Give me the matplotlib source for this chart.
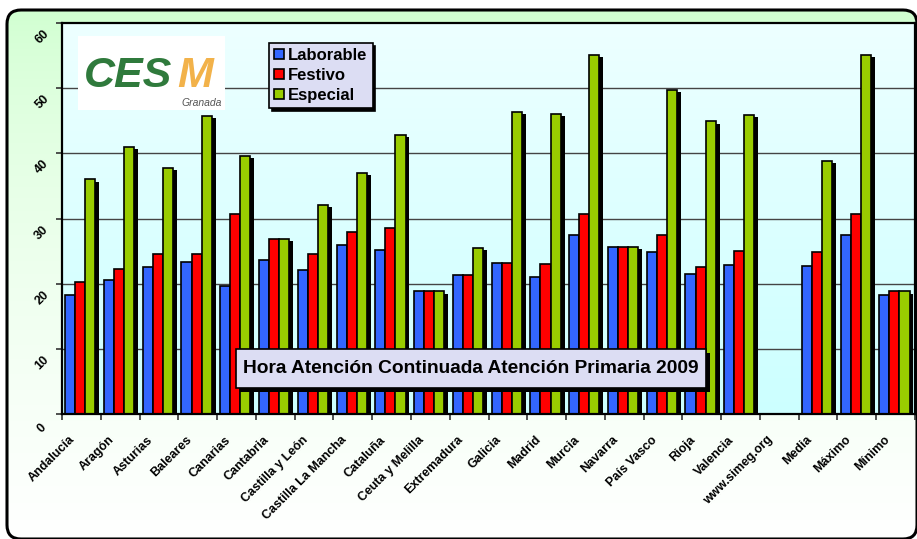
import numpy as np
import matplotlib
matplotlib.use('Agg')
import matplotlib.pyplot as plt
from matplotlib import patheffects
from matplotlib.patches import FancyBboxPatch, Rectangle, Patch

plt.rcParams['font.family'] = ['Liberation Sans', 'DejaVu Sans']

# data (hours); www.simeg.org is an empty slot
categories = ['Andalucía', 'Aragón', 'Asturias', 'Baleares', 'Canarias', 'Cantabria',
              'Castilla y León', 'Castilla La Mancha', 'Cataluña', 'Ceuta y Melilla',
              'Extremadura', 'Galicia', 'Madrid', 'Murcia', 'Navarra', 'País Vasco',
              'Rioja', 'Valencia', 'www.simeg.org', 'Media', 'Máximo', 'Mínimo']
laborable = [18.2, 20.5, 22.5, 23.4, 19.7, 23.6, 22.1, 26.0, 25.2, 18.8, 21.3,
             23.2, 21.0, 27.5, 25.6, 24.8, 21.5, 22.8, np.nan, 22.7, 27.5, 18.2]
festivo = [20.3, 22.3, 24.5, 24.5, 30.7, 26.9, 24.6, 28.0, 28.6, 18.8, 21.3,
           23.2, 23.0, 30.7, 25.6, 27.4, 22.5, 25.0, np.nan, 24.8, 30.7, 18.8]
especial = [36.0, 41.0, 37.8, 45.8, 39.6, 26.9, 32.1, 37.0, 42.8, 18.8, 25.5,
            46.4, 46.1, 55.1, 25.6, 49.7, 44.9, 45.9, np.nan, 38.8, 55.1, 18.8]
series_names = ['Laborable', 'Festivo', 'Especial']
colors = ['#3366FF', '#FF0000', '#99CC00']
yticks = [0, 10, 20, 30, 40, 50, 60]
title = 'Hora Atención Continuada Atención Primaria 2009'

W, H = 917, 539
fig = plt.figure(figsize=(W / 100, H / 100), dpi=100)

# ---- background frame (pixel coordinates) ----
back = fig.add_axes([0, 0, 1, 1], zorder=0)
back.set_xlim(0, W)
back.set_ylim(H, 0)
back.axis('off')
frame = FancyBboxPatch((7, 10), 910, 529, boxstyle='round,pad=0,rounding_size=14',
                       facecolor='none', edgecolor='black', linewidth=2.2, zorder=2)
back.add_patch(frame)
grad = np.linspace(0, 1, 256).reshape(-1, 1)
top_c = np.array([0.80, 1.0, 0.80])
bot_c = np.array([1.0, 1.0, 1.0])
img = top_c + (bot_c - top_c) * grad[:, :, None] ** 0.6
im = back.imshow(img, extent=[0, W, H, 0], aspect='auto', zorder=1)
im.set_clip_path(frame)

# ---- main chart ----
ax = fig.add_axes([62 / W, 1 - 414 / H, (915 - 62) / W, (414 - 23) / H], zorder=2)
ax.patch.set_visible(False)
n = len(categories)
x = np.arange(n)
pgrad = np.linspace(0, 1, 256).reshape(-1, 1)
ptop = np.array([0.93, 1.0, 1.0])
pbot = np.array([0.80, 1.0, 1.0])
pimg = ptop + (pbot - ptop) * pgrad[:, :, None]
ax.imshow(pimg, extent=[-0.5, n - 0.5, 0, 60], aspect='auto', zorder=0)

for v in yticks[1:-1]:
    ax.axhline(v, color='#444444', linewidth=1, zorder=1)

width = 0.26
shadow = [patheffects.SimplePatchShadow(offset=(2.8, -1.6), shadow_rgbFace='black', alpha=1.0),
          patheffects.Normal()]
for i, (vals, col) in enumerate(zip([laborable, festivo, especial], colors)):
    bars = ax.bar(x + (i - 1) * width - 0.03, vals, width, color=col, edgecolor='black',
                  linewidth=1.2, zorder=3 + i)
    for b in bars:
        b.set_path_effects(shadow)

ax.set_xlim(-0.5, n - 0.5)
ax.set_ylim(0, 60)
for s in ax.spines.values():
    s.set_color('black')
    s.set_linewidth(1.6)
    s.set_zorder(10)
ax.set_xticks(np.arange(n + 1) - 0.5)
ax.set_xticklabels([])
ax.set_yticks(yticks)
ax.set_yticklabels([])
ax.tick_params(axis='both', direction='out', length=4, width=1.2, color='#333333')

for i, c in enumerate(categories):
    ax.annotate(c, xy=(i, 0), xycoords=('data', 'axes fraction'), xytext=(-8, -24),
                textcoords='offset pixels', rotation=45, rotation_mode='anchor',
                ha='right', va='center', fontsize=9, fontweight='bold',
                annotation_clip=False)
for v in yticks:
    ax.annotate(str(v), xy=(0, v), xycoords=('axes fraction', 'data'), xytext=(-20, -14),
                textcoords='offset pixels', rotation=45, ha='center', va='center',
                fontsize=9, fontweight='bold', annotation_clip=False)

# ---- overlay: logo, legend, title box ----
over = fig.add_axes([0, 0, 1, 1], zorder=5)
over.set_xlim(0, W)
over.set_ylim(H, 0)
over.axis('off')

over.add_patch(Rectangle((78, 36), 147, 74, facecolor='white', edgecolor='none'))
over.text(84, 96, 'CES', fontsize=31, fontweight='heavy', fontstyle='italic',
          color='#2F7A3C', ha='left', va='bottom')
over.text(177, 96, 'M', fontsize=31, fontweight='heavy', fontstyle='italic',
          color='#F2B24A', ha='left', va='bottom')
over.text(222, 97.5, 'Granada', fontsize=7.5, fontstyle='italic', color='#555555',
          ha='right', va='top')

handles = [Patch(facecolor=c, edgecolor='black', linewidth=1.2) for c in colors]
leg = over.legend(handles, series_names, loc='upper left',
                  bbox_to_anchor=(269 / W, 1 - 43 / H), bbox_transform=fig.transFigure,
                  prop={'weight': 'bold', 'size': 12}, frameon=True, fancybox=False,
                  facecolor='#DCDDF3', edgecolor='black', framealpha=1,
                  shadow={'color': 'black', 'alpha': 1},
                  handlelength=0.6, handleheight=0.6, handletextpad=0.25,
                  borderpad=0.3, labelspacing=0.3, borderaxespad=0)
leg.get_frame().set_linewidth(1.2)

tx0, ty0, tw, th = 236, 349, 470, 39
over.add_patch(Rectangle((tx0 + 4, ty0 + 4), tw, th, facecolor='black', edgecolor='none'))
over.add_patch(Rectangle((tx0, ty0), tw, th, facecolor='#DCDDF3', edgecolor='black',
                         linewidth=1.2))
over.text(tx0 + tw / 2, ty0 + th / 2, title, fontsize=13.8, fontweight='bold',
          ha='center', va='center', color='black')

fig.savefig('out.png', dpi=100)
